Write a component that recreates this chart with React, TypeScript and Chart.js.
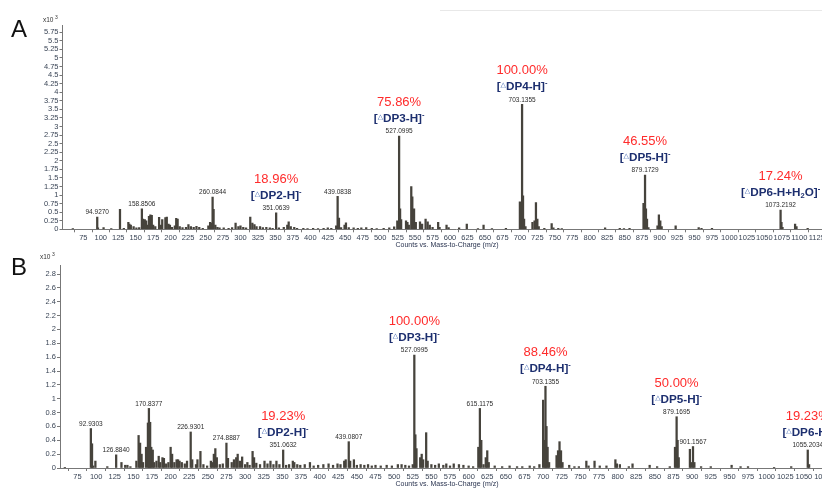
import React, { useEffect, useRef } from 'react';
import { Chart, registerables } from 'chart.js';
Chart.register(...registerables);

// ---------- Panel A data (m/z, intensity x10^3) ----------
const aMz = [60, 94.927, 96, 104, 115, 127.5, 133, 139.5, 141, 143, 147, 151, 155, 158.8506, 160.5, 163, 165, 167, 169, 171, 173, 175, 178, 183.5, 186, 188, 192.5, 194.5, 197, 199, 202, 206, 208, 210, 213, 217, 222, 225.5, 229, 233, 237, 241, 246, 254, 256.5, 258, 260.0844, 261.5, 264, 267, 270, 276, 283, 288, 293, 297, 300, 304, 308, 314, 317, 320, 323, 328, 332, 337, 342, 346, 351.0639, 355, 362, 367, 369, 372, 377, 381, 390, 396, 404, 411, 419, 425, 430, 437, 439.0838, 441, 444, 449, 451, 455, 462, 468, 473, 480, 488, 495, 505, 513, 520, 524.5, 527.0995, 528.5, 530, 537, 539, 541, 544.5, 546, 548.5, 551, 557, 560, 565, 568, 571, 575, 583, 585, 595, 598, 613, 624, 640, 648, 660, 680, 700, 701.5, 703.1355, 704.5, 706, 708, 718, 721, 723, 725, 727, 735, 745.5, 748, 755, 760, 822, 843, 849, 857, 877, 879.1729, 880.5, 882, 884, 897, 899, 901, 903, 923, 956, 960, 975, 1073.2192, 1074.5, 1076, 1094, 1096, 1112];
const aInt = [0.02, 0.36, 0.04, 0.05, 0.02, 0.58, 0.03, 0.2, 0.15, 0.12, 0.08, 0.04, 0.05, 0.6, 0.3, 0.28, 0.25, 0.12, 0.38, 0.42, 0.41, 0.12, 0.08, 0.35, 0.12, 0.28, 0.34, 0.36, 0.15, 0.12, 0.06, 0.1, 0.32, 0.3, 0.08, 0.05, 0.06, 0.14, 0.08, 0.06, 0.09, 0.06, 0.03, 0.1, 0.2, 0.18, 0.94, 0.58, 0.12, 0.06, 0.04, 0.04, 0.03, 0.05, 0.18, 0.08, 0.1, 0.06, 0.04, 0.36, 0.18, 0.14, 0.08, 0.08, 0.05, 0.06, 0.04, 0.03, 0.48, 0.04, 0.06, 0.12, 0.22, 0.08, 0.06, 0.03, 0.03, 0.02, 0.03, 0.02, 0.03, 0.04, 0.03, 0.1, 0.96, 0.33, 0.05, 0.12, 0.19, 0.05, 0.04, 0.03, 0.04, 0.05, 0.03, 0.02, 0.03, 0.04, 0.07, 0.25, 2.72, 0.6, 0.28, 0.25, 0.2, 0.12, 1.25, 0.95, 0.6, 0.2, 0.22, 0.15, 0.3, 0.22, 0.12, 0.06, 0.2, 0.06, 0.12, 0.05, 0.04, 0.15, 0.02, 0.12, 0.02, 0.03, 0.8, 0.25, 3.65, 0.98, 0.3, 0.08, 0.2, 0.25, 0.78, 0.3, 0.08, 0.03, 0.17, 0.04, 0.03, 0.02, 0.04, 0.03, 0.02, 0.03, 0.76, 1.58, 0.6, 0.3, 0.05, 0.1, 0.42, 0.25, 0.08, 0.1, 0.05, 0.03, 0.03, 0.56, 0.2, 0.06, 0.15, 0.08, 0.03];
const aLabeled = [94.927, 158.8506, 260.0844, 439.0838];
const aIonMz = [351.0639, 527.0995, 703.1355, 879.1729, 1073.2192];
const aPct = ['18.96%', '75.86%', '100.00%', '46.55%', '17.24%'];
const aIon = ['DP2-H', 'DP3-H', 'DP4-H', 'DP5-H', 'DP6-H+H_2O'];

// ---------- Panel B data ----------
const bMz = [58, 92.9303, 94.5, 96, 99, 115, 126.884, 134, 139, 142, 146, 154, 157, 159, 161, 163, 167, 169.5, 170.8377, 172.5, 174, 176, 178, 181, 184, 186, 189, 191, 194, 197, 200, 202, 205, 208, 210, 212, 215, 219, 222, 226.9301, 229, 234, 236, 240, 244, 249, 254, 256, 258, 260, 262, 266, 270, 274.8887, 277, 282, 285, 288, 290, 293, 296, 300, 303, 306, 310, 312, 315, 320, 326, 330, 334, 338, 342, 346, 351.0632, 355, 359, 364, 366, 370, 374, 380, 387, 392, 398, 405, 412, 418, 424, 428, 433, 435, 439.0807, 441, 446, 450, 455, 460, 465, 470, 475, 482, 490, 497, 505, 510, 515, 520, 525, 527.0995, 528.5, 530, 535, 537, 539, 543, 545, 550, 555, 560, 566, 570, 575, 580, 587, 593, 600, 606, 613, 615.1175, 617, 620, 623, 625, 627, 635, 645, 655, 665, 672, 682, 688, 695, 700, 702, 703.1355, 704.5, 706, 708, 718, 720, 722, 724, 726, 735, 742, 748, 758, 761, 769, 776, 785, 797, 799, 803, 815, 820, 843, 853, 870, 877, 879.1695, 880.5, 882, 897, 899, 901.1567, 903, 912, 925, 953, 965, 975, 1010, 1033, 1055.2034, 1057];
const bInt = [0.01, 0.57, 0.35, 0.03, 0.1, 0.02, 0.19, 0.08, 0.04, 0.04, 0.02, 0.1, 0.47, 0.36, 0.2, 0.08, 0.3, 0.65, 0.86, 0.66, 0.3, 0.26, 0.08, 0.1, 0.17, 0.08, 0.15, 0.14, 0.06, 0.08, 0.3, 0.2, 0.08, 0.12, 0.12, 0.1, 0.08, 0.06, 0.1, 0.52, 0.12, 0.05, 0.12, 0.24, 0.05, 0.03, 0.1, 0.08, 0.2, 0.28, 0.15, 0.05, 0.06, 0.36, 0.14, 0.08, 0.12, 0.15, 0.2, 0.1, 0.16, 0.05, 0.08, 0.04, 0.24, 0.15, 0.07, 0.05, 0.1, 0.06, 0.1, 0.05, 0.1, 0.05, 0.26, 0.04, 0.05, 0.1, 0.08, 0.05, 0.04, 0.05, 0.08, 0.03, 0.04, 0.05, 0.06, 0.04, 0.06, 0.05, 0.1, 0.12, 0.38, 0.1, 0.12, 0.04, 0.05, 0.04, 0.05, 0.03, 0.04, 0.03, 0.04, 0.03, 0.05, 0.05, 0.04, 0.03, 0.05, 1.63, 0.48, 0.28, 0.15, 0.2, 0.12, 0.51, 0.1, 0.05, 0.04, 0.06, 0.04, 0.06, 0.03, 0.06, 0.05, 0.04, 0.03, 0.02, 0.3, 0.86, 0.4, 0.05, 0.15, 0.25, 0.08, 0.03, 0.02, 0.03, 0.02, 0.02, 0.03, 0.02, 0.05, 0.98, 0.4, 1.18, 0.6, 0.3, 0.08, 0.18, 0.25, 0.38, 0.25, 0.08, 0.04, 0.02, 0.02, 0.1, 0.03, 0.1, 0.03, 0.03, 0.12, 0.06, 0.05, 0.02, 0.06, 0.04, 0.02, 0.02, 0.3, 0.74, 0.4, 0.15, 0.27, 0.08, 0.31, 0.08, 0.02, 0.02, 0.04, 0.02, 0.02, 0.01, 0.02, 0.26, 0.05];
const bLabeled = [92.9303, 126.884, 170.8377, 226.9301, 274.8887, 439.0807, 615.1175, 901.1567];
const bIonMz = [351.0632, 527.0995, 703.1355, 879.1695, 1055.2034];
const bPct = ['19.23%', '100.00%', '88.46%', '50.00%', '19.23%'];
const bIon = ['DP2-H', 'DP3-H', 'DP4-H', 'DP5-H', 'DP6-H'];

const xTickStep = 25;
const xTickFirst = 75;
const axisTitle = 'Counts vs. Mass-to-Charge (m/z)';

const FONT = "'Liberation Sans', Arial, sans-serif";
const CANVAS_W = 850;

type Panel = {
  letter: string; mz: number[]; int: number[]; labeled: number[]; ionMz: number[]; pct: string[]; ion: string[];
  xMin: number; xMax: number; yMax: number; yTop: number; yStep: number;
  h: number; top: number; bottom: number; left: number;
  letterY: number; expX: number; expY: number; titleY: number; topLine: boolean;
};

function drawIon(ctx: CanvasRenderingContext2D, cx: number, cy: number, name: string) {
  const big = `bold 11.7px ${FONT}`;
  const small = `bold 7.5px ${FONT}`;
  const tri = `7px 'DejaVu Sans', sans-serif`;
  const navy = '#1d2f6f';
  const segs: { t: string; f: string; dy: number; c: string }[] = [];
  segs.push({ t: '[', f: big, dy: 0, c: navy });
  segs.push({ t: '\u25B3', f: tri, dy: -2, c: '#3b62b0' });
  const parts = name.split('_');
  segs.push({ t: parts[0], f: big, dy: 0, c: navy });
  for (let i = 1; i < parts.length; i++) {
    segs.push({ t: parts[i].charAt(0), f: small, dy: 3, c: navy });
    segs.push({ t: parts[i].slice(1), f: big, dy: 0, c: navy });
  }
  segs.push({ t: ']', f: big, dy: 0, c: navy });
  segs.push({ t: '-', f: small, dy: -4, c: navy });
  let total = 0;
  const widths = segs.map((s) => { ctx.font = s.f; const w = ctx.measureText(s.t).width; total += w; return w; });
  let x = cx - total / 2;
  ctx.textAlign = 'left';
  ctx.textBaseline = 'middle';
  segs.forEach((s, i) => {
    ctx.font = s.f; ctx.fillStyle = s.c;
    ctx.fillText(s.t, x, cy + s.dy);
    x += widths[i];
  });
}

function annotPlugin(p: Panel) {
  return {
    id: 'annot' + p.letter,
    afterDraw(chart: any) {
      const ctx: CanvasRenderingContext2D = chart.ctx;
      const xs = chart.scales.x, ys = chart.scales.y;
      ctx.save();
      const valOf = (m: number) => p.int[p.mz.indexOf(m)];
      [...p.labeled, ...p.ionMz].forEach((m) => {
        ctx.font = `6.5px ${FONT}`; ctx.fillStyle = '#2b2b2b'; ctx.textAlign = 'center'; ctx.textBaseline = 'middle';
        ctx.fillText(m.toFixed(4), xs.getPixelForValue(m), ys.getPixelForValue(valOf(m)) - 4.5);
      });
      p.ionMz.forEach((m, k) => {
        const x = xs.getPixelForValue(m);
        const yNum = ys.getPixelForValue(valOf(m)) - 4.5;
        const yIon = yNum - 12.5;
        const yPct = yIon - 16.5;
        drawIon(ctx, x, yIon, p.ion[k]);
        ctx.font = `13px ${FONT}`; ctx.fillStyle = '#ff2b2b'; ctx.textAlign = 'center'; ctx.textBaseline = 'middle';
        ctx.fillText(p.pct[k], x, yPct);
      });
      ctx.font = `24px ${FONT}`; ctx.fillStyle = '#111'; ctx.textAlign = 'left'; ctx.textBaseline = 'alphabetic';
      ctx.fillText(p.letter, 11, p.letterY);
      ctx.font = `6.5px ${FONT}`; ctx.fillStyle = '#333'; ctx.textBaseline = 'middle';
      ctx.fillText('x10', p.expX, p.expY);
      const w = ctx.measureText('x10').width;
      ctx.font = `5px ${FONT}`;
      ctx.fillText('3', p.expX + w + 1.5, p.expY - 2.5);
      ctx.font = `7px ${FONT}`; ctx.fillStyle = '#2a3450'; ctx.textAlign = 'center';
      ctx.fillText(axisTitle, 447, p.titleY);
      if (p.topLine) {
        ctx.strokeStyle = '#e8e8e8'; ctx.lineWidth = 1;
        ctx.beginPath(); ctx.moveTo(440, 10.5); ctx.lineTo(CANVAS_W, 10.5); ctx.stroke();
      }
      ctx.restore();
    },
  };
}

function makeChart(canvas: HTMLCanvasElement, p: Panel) {
  const tickFont = { family: FONT, size: 7.5 };
  const tickColor = '#3a4556';
  return new Chart(canvas, {
    type: 'bar',
    data: {
      datasets: [{
        data: p.mz.map((m, i) => ({ x: m, y: p.int[i] })),
        backgroundColor: '#46433c',
        borderWidth: 0,
        barThickness: 1.6,
        grouped: false,
      } as any],
    },
    options: {
      responsive: false,
      animation: false,
      devicePixelRatio: 1,
      layout: { padding: { top: p.top, left: 0, right: 0, bottom: 0 } },
      plugins: { legend: { display: false }, tooltip: { enabled: false }, title: { display: false } },
      scales: {
        x: {
          type: 'linear', min: p.xMin, max: p.xMax, offset: false,
          ticks: {
            stepSize: xTickStep, autoSkip: false, maxRotation: 0, minRotation: 0, includeBounds: false,
            font: tickFont, color: tickColor, padding: 1,
            callback: (v: any) => String(Math.round(Number(v))),
          },
          grid: { drawOnChartArea: false, drawTicks: true, tickLength: 3, color: '#777' },
          border: { color: '#777', width: 1 },
          afterBuildTicks: (ax: any) => {
            ax.ticks = ax.ticks.filter((t: any) => t.value >= xTickFirst - 1e-6 && Math.abs(t.value / xTickStep - Math.round(t.value / xTickStep)) < 1e-6);
          },
          afterFit: (ax: any) => { ax.height = p.h - p.bottom; ax.paddingLeft = 0; ax.paddingRight = 0; },
        },
        y: {
          type: 'linear', min: 0, max: p.yMax,
          ticks: {
            stepSize: p.yStep, autoSkip: false, includeBounds: false, font: tickFont, color: tickColor, padding: 1,
            callback: (v: any) => String(Math.round(Number(v) * 100) / 100),
          },
          grid: { drawOnChartArea: false, drawTicks: true, tickLength: 3, color: '#777' },
          border: { color: '#777', width: 1 },
          afterBuildTicks: (ax: any) => { ax.ticks = ax.ticks.filter((t: any) => t.value <= p.yTop + 1e-6); },
          afterFit: (ax: any) => { ax.width = p.left; ax.paddingTop = 0; ax.paddingBottom = 0; },
        },
      },
    } as any,
    plugins: [annotPlugin(p)],
  });
}

const panelA: Panel = {
  letter: 'A', mz: aMz, int: aInt, labeled: aLabeled, ionMz: aIonMz, pct: aPct, ion: aIon,
  xMin: 45.2, xMax: 1172.6, yMax: 5.95, yTop: 5.75, yStep: 0.25,
  h: 250, top: 25.4, bottom: 229.3, left: 62.5,
  letterY: 36.5, expX: 43, expY: 20, titleY: 245, topLine: true,
};
const panelB: Panel = {
  letter: 'B', mz: bMz, int: bInt, labeled: bLabeled, ionMz: bIonMz, pct: bPct, ion: bIon,
  xMin: 51.5, xMax: 1111.9, yMax: 2.93, yTop: 2.8, yStep: 0.2,
  h: 239, top: 15, bottom: 218, left: 60,
  letterY: 25, expX: 40, expY: 7, titleY: 234.5, topLine: false,
};

export default function App() {
  const refA = useRef<HTMLCanvasElement>(null);
  const refB = useRef<HTMLCanvasElement>(null);
  useEffect(() => {
    const ca = makeChart(refA.current!, panelA);
    const cb = makeChart(refB.current!, panelB);
    return () => { ca.destroy(); cb.destroy(); };
  }, []);
  return (
    <div style={{ position: 'fixed', left: 0, top: 0, width: 822, height: 489, overflow: 'hidden', background: '#fff' }}>
      <canvas ref={refA} width={CANVAS_W} height={250} style={{ position: 'absolute', left: 0, top: 0, width: CANVAS_W, height: 250 }} />
      <canvas ref={refB} width={CANVAS_W} height={239} style={{ position: 'absolute', left: 0, top: 250, width: CANVAS_W, height: 239 }} />
    </div>
  );
}
